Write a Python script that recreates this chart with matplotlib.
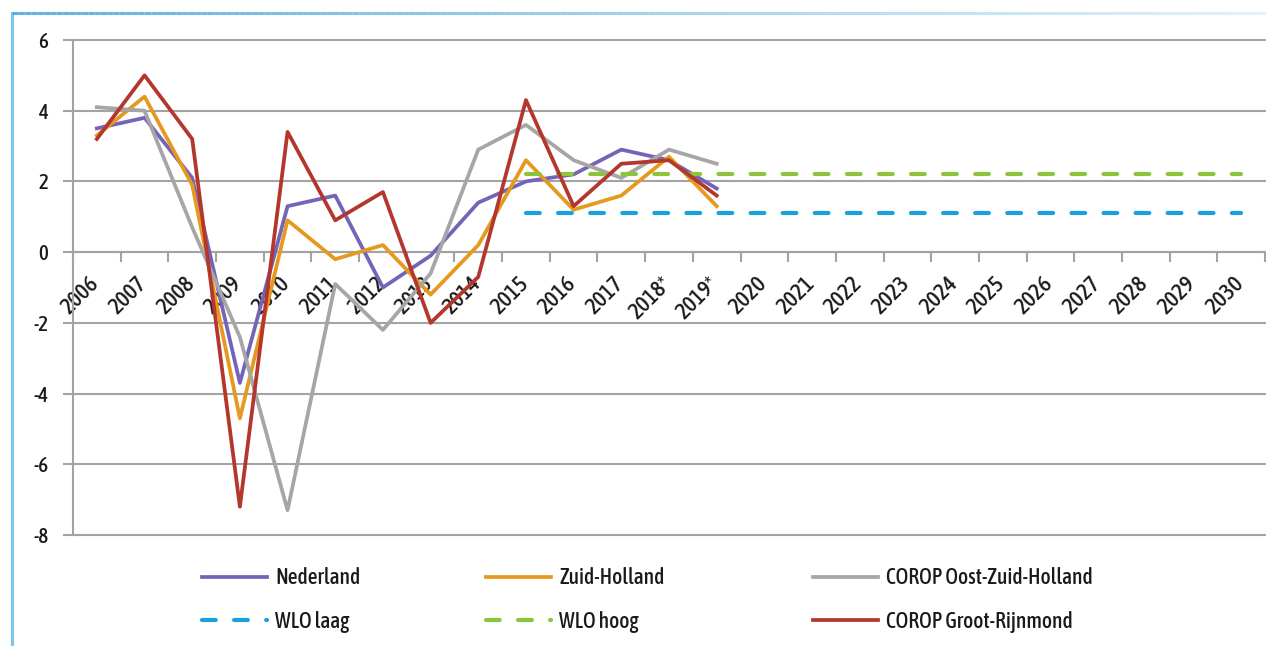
import matplotlib
matplotlib.use("Agg")
import matplotlib.pyplot as plt
import numpy as np
from matplotlib import font_manager
from matplotlib.lines import Line2D
from matplotlib.collections import LineCollection
from matplotlib.transforms import ScaledTranslation

# Categories on the x axis (2018 and 2019 are estimates)
years = ["2006", "2007", "2008", "2009", "2010", "2011", "2012", "2013", "2014",
         "2015", "2016", "2017", "2018*", "2019*", "2020", "2021", "2022", "2023",
         "2024", "2025", "2026", "2027", "2028", "2029", "2030"]

# Realised growth 2006-2019*
nederland = [3.5, 3.8, 2.1, -3.7, 1.3, 1.6, -1.0, -0.1, 1.4, 2.0, 2.2, 2.9, 2.6, 1.8]
zuid_holland = [3.3, 4.4, 1.9, -4.7, 0.9, -0.2, 0.2, -1.2, 0.2, 2.6, 1.2, 1.6, 2.7, 1.3]
oost_zuid_holland = [4.1, 4.0, 0.7, -2.4, -7.3, -0.9, -2.2, -0.6, 2.9, 3.6, 2.6, 2.1, 2.9, 2.5]
groot_rijnmond = [3.2, 5.0, 3.2, -7.2, 3.4, 0.9, 1.7, -2.0, -0.7, 4.3, 1.3, 2.5, 2.6, 1.6]

# WLO scenarios 2015-2030
wlo_start = "2015"
wlo_laag = [1.1, 1.1, 1.1, 1.1, 1.1, 1.1, 1.1, 1.1, 1.1, 1.1, 1.1, 1.1, 1.1, 1.1, 1.1, 1.1]
wlo_hoog = [2.2, 2.2, 2.2, 2.2, 2.2, 2.2, 2.2, 2.2, 2.2, 2.2, 2.2, 2.2, 2.2, 2.2, 2.2, 2.2]

yticks = [-8, -6, -4, -2, 0, 2, 4, 6]

# look for a condensed face (medium first), otherwise plain Roboto
def pick_font():
    fonts = font_manager.fontManager.ttflist
    narrow = [f for f in fonts
              if ("Condensed" in f.name or "Narrow" in f.name
                  or f.stretch in ("condensed", "semi-condensed"))
              and f.style == "normal"]
    for wanted in (500, 400, "medium", "normal", 600):
        for f in narrow:
            if f.weight == wanted:
                return f
    return None

entry = pick_font()
if entry:
    plt.rcParams["font.family"] = [entry.name, "DejaVu Sans"]
    plt.rcParams["font.stretch"] = entry.stretch
    plt.rcParams["font.weight"] = entry.weight
else:
    plt.rcParams["font.family"] = ["Roboto", "DejaVu Sans"]
    plt.rcParams["font.weight"] = "medium"

GRID = "#a3a3a3"
TEXT = "#1a1a1a"
FS = 15

fig = plt.figure(figsize=(12.66, 6.46), dpi=100)
W, H = 1266, 646
ax = fig.add_axes([73 / W, 1 - 535 / H, (1265 - 73) / W, (535 - 40) / H])

x = np.arange(len(years))
x_hist = x[:len(nederland)]
x_wlo = x[years.index(wlo_start):years.index(wlo_start) + len(wlo_laag)]

lw = 2.7
dash = (0, (3.3, 4.4))
ax.plot(x_hist, nederland, color="#7464b8", lw=lw, label="Nederland", zorder=3)
ax.plot(x_hist, zuid_holland, color="#e5991f", lw=lw, label="Zuid-Holland", zorder=3)
ax.plot(x_hist, oost_zuid_holland, color="#a6a6a6", lw=lw, label="COROP Oost-Zuid-Holland", zorder=3)
ax.plot(x_wlo, wlo_laag, color="#1aa0da", lw=3.0, ls=dash, dash_capstyle="round",
        label="WLO laag", zorder=3)
ax.plot(x_wlo, wlo_hoog, color="#8cc43c", lw=3.0, ls=dash, dash_capstyle="round",
        label="WLO hoog", zorder=3)
ax.plot(x_hist, groot_rijnmond, color="#b3372c", lw=lw, label="COROP Groot-Rijnmond", zorder=3)

ax.set_xlim(-0.5, len(years) - 0.5)
ax.set_ylim(-8, 6)

# y axis with gridlines
ax.set_yticks(yticks)
ax.set_yticklabels([str(v) for v in yticks], fontsize=FS, color=TEXT)
ax.tick_params(axis="y", length=7.2, width=1.5, color=GRID, pad=10.5)
ax.yaxis.grid(True, color=GRID, lw=1.5)
for gl in ax.get_ygridlines():
    gl.set_clip_on(False)
ax.set_axisbelow(True)

# category axis crossing at zero
for side in ["top", "right"]:
    ax.spines[side].set_visible(False)
ax.spines["left"].set_color(GRID)
ax.spines["left"].set_linewidth(1.5)
ax.spines["bottom"].set_position(("data", 0))
ax.spines["bottom"].set_color(GRID)
ax.spines["bottom"].set_linewidth(1.5)

ax.set_xticks(np.arange(-0.5, len(years)), minor=False)
ax.set_xticklabels([])
ax.tick_params(axis="x", which="major", length=7, width=1.5, color=GRID, direction="out")
ax.set_xticks(x, minor=True)
ax.set_xticklabels(years, minor=True, rotation=45, ha="right", va="top",
                   fontsize=FS + 1.5, color=TEXT)
ax.tick_params(axis="x", which="minor", length=0, pad=15)
shift = ScaledTranslation(7 / 100, 0, fig.dpi_scale_trans)
for lbl in ax.get_xticklabels(minor=True):
    lbl.set_transform(lbl.get_transform() + shift)

# legend in three columns underneath
handles, labels = ax.get_legend_handles_labels()
lookup = dict(zip(labels, handles))
columns = [(["Nederland", "WLO laag"], 202),
           (["Zuid-Holland", "WLO hoog"], 486),
           (["COROP Oost-Zuid-Holland", "COROP Groot-Rijnmond"], 813)]
for names, xpix in columns:
    leg = fig.legend([lookup[n] for n in names], names, loc="center left",
                     bbox_to_anchor=(xpix / W, 1 - 600 / H), frameon=False,
                     fontsize=FS + 0.5, handlelength=3.0, handletextpad=0.4,
                     labelspacing=1.0, borderpad=0, borderaxespad=0)
    for t in leg.get_texts():
        t.set_color(TEXT)

# light blue frame round the figure
fig.add_artist(Line2D([12 / W, 12 / W], [0, 1 - 13 / H], transform=fig.transFigure,
                      color="#7cc6ec", lw=2.2))
xs = np.linspace(12 / W, 1.0, 200)
segs = [[(xs[i], 1 - 13 / H), (xs[i + 1], 1 - 13 / H)] for i in range(len(xs) - 1)]
fade = np.linspace(0.9, 0.15, len(segs))
cols = [(0.30, 0.66, 0.86, a) for a in fade]
fig.add_artist(LineCollection(segs, colors=cols, linewidths=2.2, transform=fig.transFigure))

fig.savefig("out.png", dpi=100)
